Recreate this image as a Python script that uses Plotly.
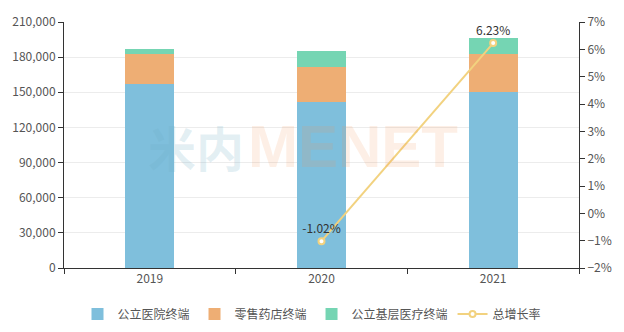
import plotly.graph_objects as go

years = ["2019", "2020", "2021"]
hospital = [157000, 141900, 149900]
retail = [25400, 29500, 33000]
primary = [4600, 13700, 13700]
growth = [None, -1.02, 6.23]
growth_labels = ["", "-1.02%", "6.23%"]
names = ["公立医院终端", "零售药店终端", "公立基层医疗终端", "总增长率"]
colors = ["#7fbfdc", "#eeae74", "#75d5b3", "#f2d27f"]

font = "Noto Sans CJK SC, Noto Sans, sans-serif"
fig = go.Figure()
for vals, nm, c in zip([hospital, retail, primary], names[:3], colors[:3]):
    fig.add_trace(go.Bar(x=years, y=vals, name=nm, marker=dict(color=c, line=dict(width=0)),
                         width=0.285))
fig.add_trace(go.Scatter(x=years, y=growth, name=names[3], yaxis="y2", mode="lines+markers+text",
                         line=dict(color=colors[3], width=2),
                         marker=dict(color="white", size=6, line=dict(color=colors[3], width=2)),
                         text=growth_labels, textposition="top center",
                         textfont=dict(size=12, color="#333")))

fig.add_annotation(x=0.352, y=0.494, xref="paper", yref="paper", xanchor="right", yanchor="middle",
                   showarrow=False, text="<b>米内</b>", borderpad=0,
                   font=dict(size=48, color="rgba(110,170,195,0.19)", family=font))
fig.add_annotation(x=0.356, y=0.494, xref="paper", yref="paper", xanchor="left", yanchor="middle",
                   showarrow=False, text="<b>MENET</b>", borderpad=0,
                   font=dict(size=60, color="rgba(240,150,90,0.15)",
                             family="Liberation Sans, Arial, sans-serif"))

fig.update_layout(
    width=624, height=332, barmode="stack", bargap=0.7,
    margin=dict(l=57, r=40, t=12, b=64),
    plot_bgcolor="white", paper_bgcolor="white",
    font=dict(family=font, size=12, color="#555"),
    xaxis=dict(type="category", showline=True, linecolor="#333", linewidth=1,
               ticks="outside", tickson="boundaries", ticklen=5, tickcolor="#333",
               tickfont=dict(size=12, color="#555"), showgrid=False),
    yaxis=dict(range=[0, 210000], dtick=30000, tickformat=",", showline=True,
               linecolor="#333", ticks="outside", ticklen=5, tickcolor="#333",
               gridcolor="#ececec", zeroline=False, tickfont=dict(size=12, color="#555")),
    yaxis2=dict(range=[-2, 7], dtick=1, ticksuffix="%", overlaying="y", side="right",
                showline=True, linecolor="#333", ticks="outside", ticklen=5, tickcolor="#333",
                showgrid=False, zeroline=False, tickfont=dict(size=12, color="#555")),
    legend=dict(orientation="h", x=0.5, xanchor="center", y=0.054, yanchor="middle",
                yref="container", xref="container",
                font=dict(size=12, color="#555"), itemwidth=30, traceorder="normal"),
    showlegend=True,
)
fig.write_html("out.html")
